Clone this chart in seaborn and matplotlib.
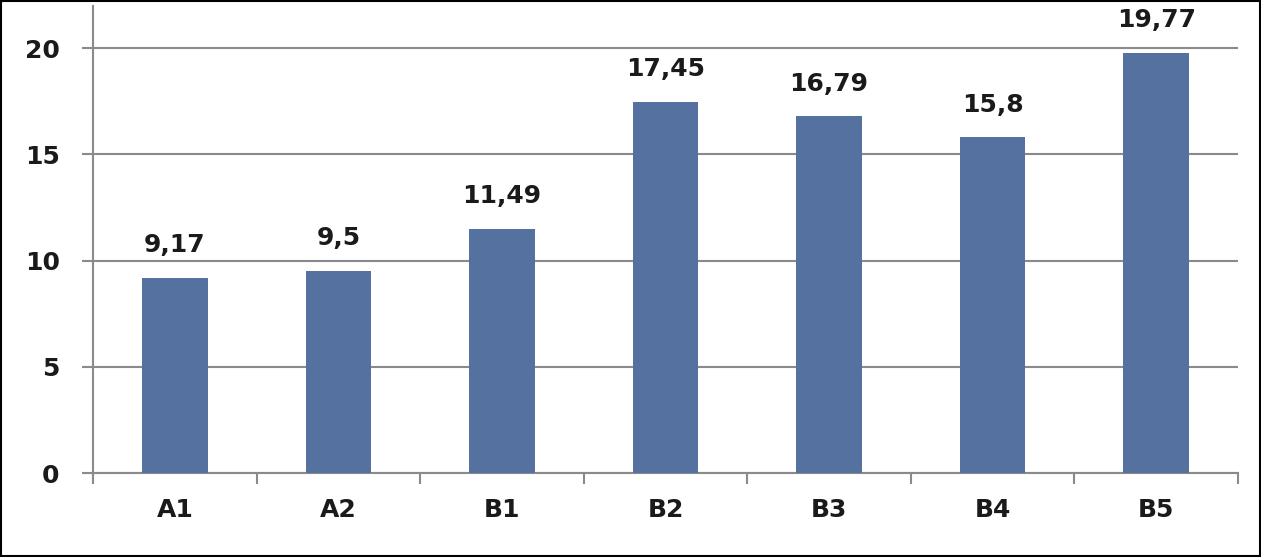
import matplotlib
matplotlib.use("Agg")
import matplotlib.pyplot as plt
import seaborn as sns
import pandas as pd
from matplotlib.patches import Rectangle
from matplotlib.ticker import MultipleLocator, FixedLocator, NullFormatter

categories = ["A1", "A2", "B1", "B2", "B3", "B4", "B5"]
values = [9.17, 9.5, 11.49, 17.45, 16.79, 15.8, 19.77]
value_labels = ["9,17", "9,5", "11,49", "17,45", "16,79", "15,8", "19,77"]

df = pd.DataFrame({"cat": categories, "val": values})

sns.set_style("white")
plt.rcParams["font.family"] = ["DejaVu Sans"]

fig = plt.figure(figsize=(12.61, 5.57), dpi=100)
ax = fig.add_axes([0.0738, 0.1508, 0.9079, 0.839])

bar_color = "#55719F"
grid_color = "#8a8a8a"

sns.barplot(data=df, x="cat", y="val", color=bar_color, width=0.4,
            saturation=1, ax=ax, zorder=3, linewidth=0, edgecolor=bar_color)

ax.set_ylim(0, 22)
ax.set_xlim(-0.5, len(categories) - 0.5)
ax.yaxis.set_major_locator(MultipleLocator(5))
ax.grid(axis="y", color=grid_color, linewidth=1.5, zorder=0)
ax.set_axisbelow(True)

for s in ["top", "right"]:
    ax.spines[s].set_visible(False)
for s in ["left", "bottom"]:
    ax.spines[s].set_color(grid_color)
    ax.spines[s].set_linewidth(1.5)

ax.set_xlabel("")
ax.set_ylabel("")

ax.tick_params(axis="y", which="major", length=8, width=1.5, color=grid_color,
               pad=16, labelsize=18, direction="out", left=True)
for lab in ax.get_yticklabels():
    lab.set_fontweight("bold")
    lab.set_color("#1a1a1a")

ax.xaxis.set_minor_locator(FixedLocator([i - 0.5 for i in range(len(categories) + 1)]))
ax.xaxis.set_minor_formatter(NullFormatter())
ax.tick_params(axis="x", which="minor", length=8, width=1.5, color=grid_color,
               direction="out", bottom=True)
ax.tick_params(axis="x", which="major", length=0, pad=18, labelsize=18)
for lab in ax.get_xticklabels():
    lab.set_fontweight("bold")
    lab.set_color("#1a1a1a")

ax.bar_label(ax.containers[0], labels=value_labels, padding=15,
             fontsize=18, fontweight="bold", color="#1a1a1a")

fig.add_artist(Rectangle((0.0008, 0.0018), 0.9984, 0.9964, transform=fig.transFigure,
                         fill=False, edgecolor="black", linewidth=1.5))

fig.savefig("out.png", dpi=100)
